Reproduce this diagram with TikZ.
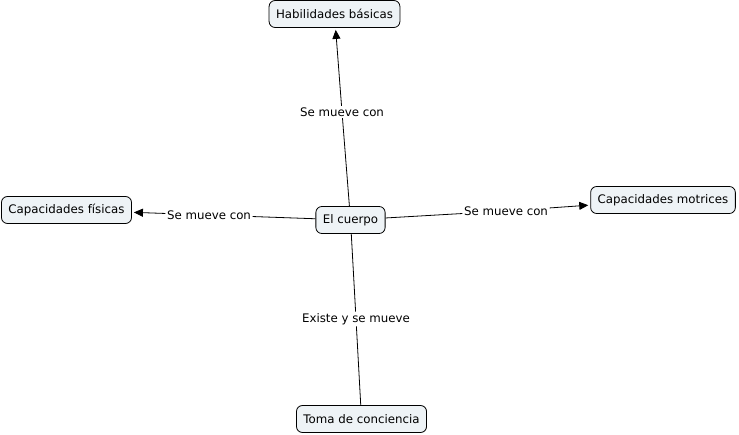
\documentclass[tikz,border=0pt]{standalone}
\usepackage{fontspec}
\setmainfont{DejaVu Sans}
\usepackage{xcolor}
\usetikzlibrary{arrows.meta}
\definecolor{cfill}{HTML}{EEF3F6}

\begin{document}
\begin{tikzpicture}[x=1pt, y=-1pt,
  concept/.style={draw, rectangle, rounded corners=6pt, fill=cfill,
    line width=0.8pt, minimum height=27pt, inner xsep=7pt,
    text centered, font=\fontsize{11.8}{14}\selectfont},
  lbl/.style={fill=white, inner sep=1.5pt, font=\fontsize{11.8}{14}\selectfont},
  arr/.style={-{Triangle[length=9pt,width=8pt]}, line width=0.8pt, shorten >=2pt},
  ln/.style={line width=0.8pt}]
  \useasboundingbox (0,0) rectangle (739,435);
  % concepts
  \node[concept] (cuerpo) at (350.5,220) {El cuerpo};
  \node[concept] (hab) at (334.5,14) {Habilidades básicas};
  \node[concept] (fis) at (66.5,210) {Capacidades físicas};
  \node[concept] (mot) at (663,200) {Capacidades motrices};
  \node[concept] (toma) at (361.5,419) {Toma de conciencia};
  % link labels
  \node[lbl] (l1) at (342,112) {Se mueve con};
  \node[lbl] (l2) at (209,215) {Se mueve con};
  \node[lbl] (l3) at (506,211) {Se mueve con};
  \node[lbl] (l4) at (356,319) {Existe y se mueve};
  % connectors
  \draw[ln] (cuerpo) -- (l1);
  \draw[arr] (l1) -- (hab);
  \draw[ln] (cuerpo) -- (l2);
  \draw[arr] (l2) -- (fis);
  \draw[ln] (cuerpo) -- (l3);
  \draw[arr] (l3) -- (mot);
  \draw[ln] (cuerpo) -- (l4);
  \draw[ln] (l4) -- (toma);
\end{tikzpicture}
\end{document}
